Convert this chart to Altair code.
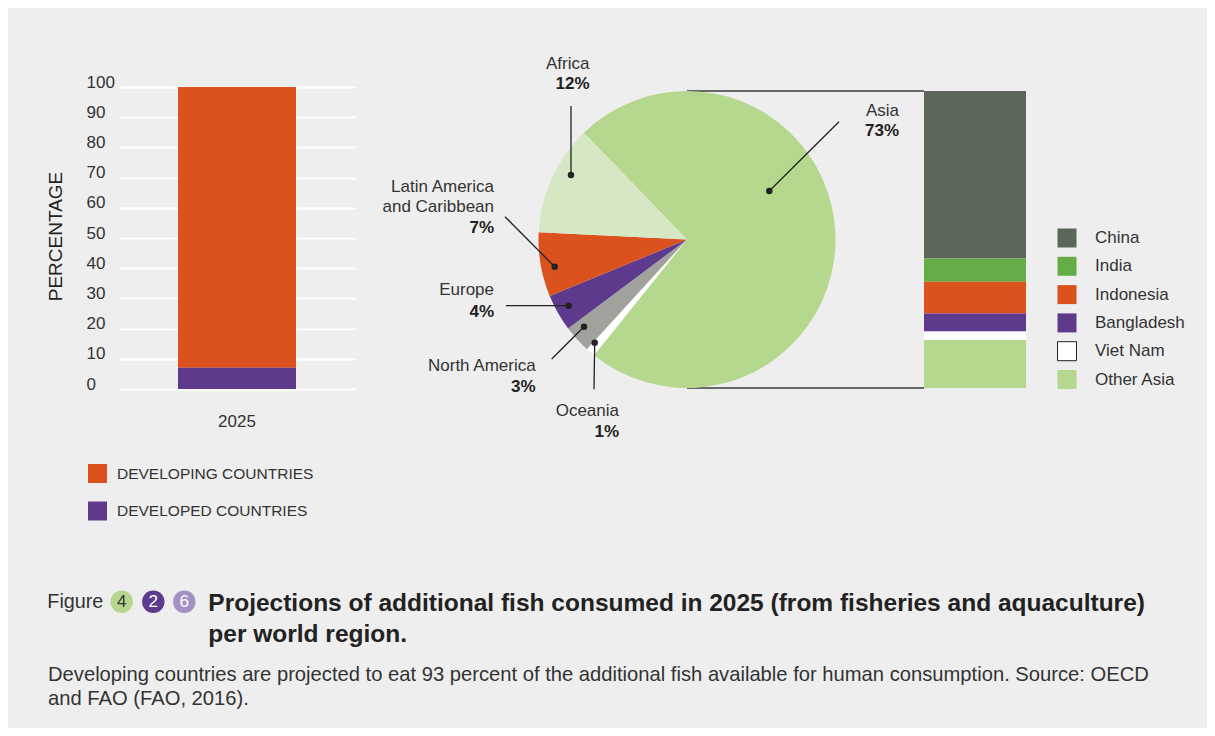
import math
import altair as alt
import pandas as pd

FONT = "Liberation Sans"
BG = "#eeeeee"
INK = "#333333"
DARK = "#222222"

# ---------------- data: left stacked bar ----------------
bar_year = "2025"
bar_groups = ["DEVELOPING COUNTRIES", "DEVELOPED COUNTRIES"]
bar_values = [93, 7]
bar_colors = ["#db521e", "#5e3a8c"]
bar_stack = [1, 0]
y_ticks = [0, 10, 20, 30, 40, 50, 60, 70, 80, 90, 100]

# ---------------- data: pie ----------------
regions = ["Asia", "Oceania", "North America", "Europe",
           "Latin America and Caribbean", "Africa"]
region_values = [73, 1, 3, 4, 7, 12]
region_colors = ["#b5d88e", "#ffffff", "#a0a29b", "#5e3a8c", "#db521e", "#d6e8c3"]
region_label_lines = [["Asia"], ["Oceania"], ["North America"], ["Europe"],
                      ["Latin America", "and Caribbean"], ["Africa"]]

# ---------------- data: Asia breakdown ----------------
asia_parts = ["China", "India", "Indonesia", "Bangladesh", "Viet Nam", "Other Asia"]
asia_values = [56.4, 7.8, 10.7, 6.1, 2.8, 16.2]
asia_colors = ["#5c6659", "#65ac46", "#db521e", "#5e3a8c", "#ffffff", "#b5d88e"]
asia_stack = [5, 4, 3, 2, 1, 0]

# ---------------- caption text ----------------
fig_word = "Figure"
fig_badges = ["4", "2", "6"]
fig_badge_fill = ["#b5d88e", "#5e3a8c", "#a491c4"]
fig_badge_ink = ["#333333", "#ffffff", "#ffffff"]
fig_title_lines = ["Projections of additional fish consumed in 2025 (from fisheries and aquaculture)",
                   "per world region."]
fig_note_lines = ["Developing countries are projected to eat 93 percent of the additional fish available for human consumption. Source: OECD",
                  "and FAO (FAO, 2016)."]

# ---------------- annotation layout (pie, offsets in px from pie centre, up = +) ----------------
PIE_R = 148.5
label_x = [212, -68, -151.3, -193, -193, -97.5]
name_y = [129.5, -170.5, -125.5, -49, 54, 177]
pct_y = [109.5, -191.5, -146.5, -71.3, 12.5, 156.5]
dot_x = [82.3, -92.3, -103, -118.3, -132.3, -116]
dot_y = [48.5, -103.2, -87.2, -66.2, -27.2, 64.5]
end_x = [152, -93, -135.3, -181, -182, -116]
end_y = [117.8, -149.8, -119.5, -66.2, 22.8, 133.5]
BAR_LEFT_OFFSET = 237
START_ANGLE = math.radians(316)
BASE_SHIFT = 6.1

# ================= Panel A: developing vs developed =================
a_df = pd.DataFrame({"year": [bar_year] * len(bar_groups), "group": bar_groups,
                     "share": bar_values, "stack": bar_stack})

bg_df = pd.DataFrame({"k": [0]})
bg = alt.Chart(bg_df).mark_rect(fill=BG, opacity=0).encode(
    x=alt.value(-111), x2=alt.value(1088), y=alt.value(-79), y2=alt.value(641))

bars_a = alt.Chart(a_df).mark_bar().encode(
    x=alt.X("year:N", scale=alt.Scale(paddingInner=0, paddingOuter=0.5),
            axis=alt.Axis(title=None, labelAngle=0, labelFontSize=17, labelColor=INK,
                          labelBaseline="alphabetic", labelPadding=37.7, ticks=False,
                          tickSize=0, domain=False, grid=False)),
    y=alt.Y("share:Q", stack=True, scale=alt.Scale(domain=[0, 100], nice=False),
            axis=alt.Axis(title="PERCENTAGE", values=y_ticks, grid=True, gridColor="#ffffff",
                          gridWidth=2, ticks=False, tickSize=0, domain=False, labelAlign="left",
                          labelPadding=33, labelBaseline="alphabetic", labelFontSize=17,
                          labelColor=INK, titleFontSize=19, titleFontWeight="normal",
                          titleColor=DARK, titleAngle=270, titleX=-57.3, titleY=149,
                          titleBaseline="alphabetic", titleAlign="center")),
    color=alt.Color("group:N", scale=alt.Scale(domain=bar_groups, range=bar_colors),
                    legend=alt.Legend(orient="none", legendX=-31, legendY=377, title=None,
                                      symbolType="square", symbolSize=361, rowPadding=18.5,
                                      labelOffset=10, labelFontSize=15.5, labelColor=INK,
                                      padding=0, labelLimit=0, symbolStrokeWidth=0)),
    order=alt.Order("stack:Q"),
)
panel_a = alt.layer(bg, bars_a).properties(width=236, height=302)

# ================= Panel B: pie with annotations =================
XS = alt.Scale(domain=[-PIE_R, PIE_R], nice=False, zero=False)
YS = alt.Scale(domain=[-149.5, 152.5], nice=False, zero=False)

pie_df = pd.DataFrame({"region": regions, "value": region_values,
                       "stack": list(range(len(regions)))})
pie = alt.Chart(pie_df).mark_arc(outerRadius=PIE_R).encode(
    theta=alt.Theta("value:Q", stack=True,
                    scale=alt.Scale(domain=[0, 100], range=[START_ANGLE, START_ANGLE + 2 * math.pi])),
    color=alt.Color("region:N", scale=alt.Scale(domain=regions, range=region_colors), legend=None),
    order=alt.Order("stack:Q"),
    x=alt.XDatum(0, type="quantitative", scale=XS, axis=None),
    y=alt.YDatum(0, type="quantitative", scale=YS, axis=None),
)

lead_df = pd.DataFrame({"region": regions, "dx": dot_x, "dy": dot_y, "ex": end_x, "ey": end_y})
leaders = alt.Chart(lead_df).mark_rule(color=DARK, strokeWidth=1.3).encode(
    x=alt.X("dx:Q", scale=XS, axis=None), y=alt.Y("dy:Q", scale=YS, axis=None),
    x2="ex:Q", y2="ey:Q")
dots = alt.Chart(lead_df).mark_point(filled=True, size=42, color=DARK, opacity=1).encode(
    x=alt.X("dx:Q", scale=XS, axis=None), y=alt.Y("dy:Q", scale=YS, axis=None))

conn_df = pd.DataFrame({"x0": [0, 0], "y0": [PIE_R, -PIE_R],
                        "x1": [BAR_LEFT_OFFSET, BAR_LEFT_OFFSET], "y1": [PIE_R, -PIE_R]})
connectors = alt.Chart(conn_df).mark_rule(color="#3a3a3a", strokeWidth=1.6).encode(
    x=alt.X("x0:Q", scale=XS, axis=None), y=alt.Y("y0:Q", scale=YS, axis=None),
    x2="x1:Q", y2="y1:Q")

name_rows, pct_rows = [], []
for i, r in enumerate(regions):
    for j, line in enumerate(region_label_lines[i]):
        name_rows.append({"x": label_x[i], "y": name_y[i] - j * 20.5 - BASE_SHIFT, "t": line})
    pct_rows.append({"x": label_x[i], "y": pct_y[i] - BASE_SHIFT, "t": f"{region_values[i]}%"})
names = alt.Chart(pd.DataFrame(name_rows)).mark_text(
    align="right", baseline="alphabetic", fontSize=17, color=INK).encode(
    x=alt.X("x:Q", scale=XS, axis=None), y=alt.Y("y:Q", scale=YS, axis=None), text="t:N")
pcts = alt.Chart(pd.DataFrame(pct_rows)).mark_text(
    align="right", baseline="alphabetic", fontSize=17, fontWeight="bold", color=DARK).encode(
    x=alt.X("x:Q", scale=XS, axis=None), y=alt.Y("y:Q", scale=YS, axis=None), text="t:N")

panel_b = alt.layer(connectors, pie, leaders, dots, names, pcts).properties(width=297, height=302)

# ================= Panel C: Asia breakdown =================
c_df = pd.DataFrame({"grp": ["Asia"] * len(asia_parts), "country": asia_parts,
                     "share": asia_values, "stack": asia_stack})
panel_c = alt.Chart(c_df).mark_bar().encode(
    x=alt.X("grp:N", scale=alt.Scale(paddingInner=0, paddingOuter=0), axis=None),
    y=alt.Y("share:Q", stack=True, scale=alt.Scale(domain=[-0.337, 101.35], nice=False, zero=False),
            axis=None),
    color=alt.Color("country:N", scale=alt.Scale(domain=asia_parts, range=asia_colors),
                    legend=alt.Legend(orient="none", legendX=133, legendY=141, title=None,
                                      symbolType="square", symbolSize=361, rowPadding=4.3,
                                      labelOffset=18, labelFontSize=17, labelColor=INK,
                                      padding=0, labelLimit=0, symbolStrokeWidth=1,
                                      symbolStrokeColor=alt.ExprRef(
                                          "datum.value == 'Viet Nam' ? '#222222' : 'transparent'"))),
    order=alt.Order("stack:Q"),
).properties(width=102, height=302)

# ================= Panel D: caption =================
one = pd.DataFrame({"k": [0]})
cap_layers = [alt.Chart(one).mark_text(text=fig_word, x=-71.7, y=48.3, align="left",
                                       baseline="alphabetic", fontSize=19.8, color=INK)]
badge_x = [2.7, 34.3, 65.3]
for i, b in enumerate(fig_badges):
    cap_layers.append(alt.Chart(one).mark_circle(x=badge_x[i], y=41.7, size=503,
                                                 color=fig_badge_fill[i], opacity=1))
    cap_layers.append(alt.Chart(one).mark_text(text=b, x=badge_x[i], y=42, align="center",
                                               baseline="middle", fontSize=17,
                                               color=fig_badge_ink[i]))
for i, line in enumerate(fig_title_lines):
    cap_layers.append(alt.Chart(one).mark_text(text=line, x=89.3, y=50.7 + i * 30.8, align="left",
                                               baseline="alphabetic", fontSize=24.5,
                                               fontWeight="bold", color=DARK))
for i, line in enumerate(fig_note_lines):
    cap_layers.append(alt.Chart(one).mark_text(text=line, x=-71, y=120.7 + i * 23.8, align="left",
                                               baseline="alphabetic", fontSize=20.2, color=INK))
panel_d = alt.layer(*cap_layers).properties(width=1000, height=160)

right = alt.hconcat(panel_b, panel_c, spacing=88.5, bounds="flush").resolve_scale(
    color="independent", x="independent", y="independent")
top = alt.hconcat(panel_a, right, spacing=183.5, bounds="flush").resolve_scale(
    color="independent", x="independent", y="independent")
# the nested row counts as zero-height under flush bounds, so the gap spans the row too
chart = alt.vconcat(top, panel_d, spacing=473, bounds="flush").resolve_scale(
    color="independent", x="independent", y="independent").properties(
    padding=0, background=BG).configure(font=FONT).configure_view(stroke=None)

chart.save("out.html", embed_options={"renderer": "svg", "actions": False})
